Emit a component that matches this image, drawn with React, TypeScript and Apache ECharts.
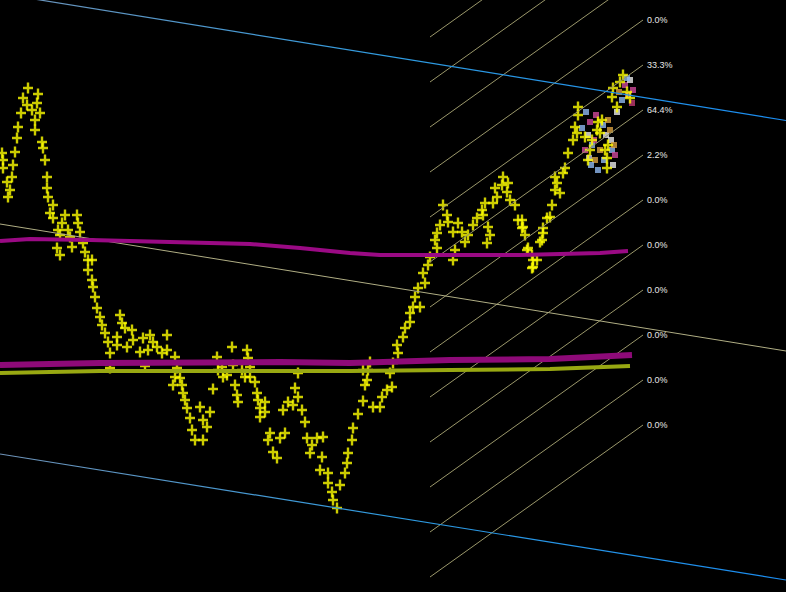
import React, { useEffect, useRef } from "react";
import * as echarts from "echarts";

// Price path (bar position, price level on an inverted scale)
const priceX: number[] = [2,3,3,7,8,10,12,13,15,17,18,21,23,27,28,32,35,35,37,38,40,42,43,45,47,47,48,53,50,53,57,58,60,60,62,65,68,70,72,77,78,80,83,85,88,88,92,92,93,95,97,100,102,105,108,110,110,117,117,120,122,125,127,132,133,140,143,145,148,150,153,157,162,167,167,175,177,175,173,180,182,183,185,187,190,192,195,200,203,203,207,210,213,217,218,222,223,227,232,233,235,237,238,242,245,247,248,250,250,255,257,258,260,260,265,265,268,270,273,277,280,283,285,288,293,295,298,298,302,305,307,310,312,317,320,322,323,328,328,332,333,337,340,345,347,348,352,353,358,363,363,365,367,368,370,373,380,382,387,390,392,393,397,398,403,405,410,410,413,415,418,420,423,425,428,430,435,437,437,440,443,447,448,453,453,455,458,462,465,468,473,477,482,483,485,487,488,490,493,495,497,502,503,507,508,510,515,518,522,522,523,525,527,528,532,532,533,533,537,540,542,543,543,547,550,552,555,555,557,560,563,565,568,573,575,577,578,578,585,588,590,592,597,598,600,602,605,607,607,608,612,613,617,620,623,627,630];
const priceY: number[] = [153,160,168,182,197,190,177,165,152,138,127,113,98,105,88,110,120,130,103,94,113,142,148,160,177,188,197,205,213,218,248,230,235,255,223,215,230,237,247,215,223,232,243,252,260,270,260,280,287,297,308,317,325,333,342,353,368,337,345,315,323,328,347,330,340,352,338,366,350,335,342,347,353,335,350,357,368,377,385,378,385,393,400,408,418,430,440,407,420,440,427,412,389,357,370,367,377,375,347,365,385,395,402,370,377,350,358,367,377,382,393,400,408,417,402,412,440,433,452,458,438,410,433,402,405,388,373,397,410,422,438,453,445,438,470,457,437,473,483,492,500,508,485,473,463,453,440,428,414,401,370,385,380,370,362,407,407,397,390,373,387,363,345,353,337,328,322,313,307,297,288,307,273,283,265,257,240,248,233,225,205,215,222,232,260,250,223,232,242,235,225,218,210,215,203,243,227,235,203,188,197,185,177,192,183,200,205,220,228,220,227,235,250,248,255,268,260,267,260,242,240,228,233,218,217,205,190,177,183,193,173,168,153,140,127,133,115,107,137,160,150,140,130,122,133,120,150,158,168,145,97,88,107,82,75,92,98];

// Latest ticks (multicolour markers)
const tickX: number[] = [586,590,588,592,585,595,603,606,610,612,615,613,598,625,628,632,630,622,617,582,600,589,594,608,611,604,619,627,633,596,591,614];
const tickY: number[] = [112,122,135,145,150,160,125,135,130,150,155,165,170,85,95,103,80,100,112,128,150,158,140,120,140,160,92,78,90,115,165,145];
const tickC: string[] = ["#8fb8f0","#d0489a","#e8e8e8","#8fb8f0","#d0489a","#d8a040","#8fb8f0","#e8e8e8","#d8a040","#8fb8f0","#d0489a","#e8e8e8","#8fb8f0","#d0489a","#d0489a","#c03a70","#e8e8e8","#8fb8f0","#e8e8e8","#8fb8f0","#d8a040","#c8c8d8","#d0489a","#d8a040","#e8e8e8","#8fb8f0","#d8a040","#8fb8f0","#d0489a","#d0489a","#8fb8f0","#d8a040"];

// Moving averages
const maFastX: number[] = [0, 30, 90, 170, 250, 300, 350, 380, 520, 560, 600, 628];
const maFastY: number[] = [241, 239, 240, 242, 244, 248, 253, 255, 255, 254, 253, 251];
const maMidX: number[] = [0, 100, 280, 350, 450, 550, 632];
const maMidY: number[] = [365, 363, 362, 363, 360, 359, 355];
const maSlowX: number[] = [0, 100, 350, 450, 550, 630];
const maSlowY: number[] = [373, 371, 371, 370, 369, 366];

// Regression channel
const channelX: number[] = [0, 786];
const channelUpper: number[] = [-6.5, 120.5];
const channelMid: number[] = [224, 351];
const channelLower: number[] = [454, 580];

// Fan lines
const fanStartX = 430;
const fanEndX = 643;
const fanStartY: number[] = [37, 82, 127, 172, 217, 262, 307, 352, 397, 442, 487, 532, 577];
const fanEndY: number[] = [-115, -70, -25, 20, 65, 110, 155, 200, 245, 290, 335, 380, 425];
const fanLabels: string[] = ["", "", "", "0.0%", "33.3%", "64.4%", "2.2%", "0.0%", "0.0%", "0.0%", "0.0%", "0.0%", "0.0%"];

const zip = (xs: number[], ys: number[]) => xs.map((x, i) => [x, ys[i]]);

const crossPath = "path://M3.8,0H6.2V3.8H10V6.2H6.2V10H3.8V6.2H0V3.8H3.8Z";

export default function App() {
  const ref = useRef<HTMLDivElement>(null);
  useEffect(() => {
    document.body.style.margin = "0";
    document.body.style.background = "#000";
    const chart = echarts.init(ref.current!, undefined, { renderer: "svg" });
    const series: any[] = [];
    fanStartY.forEach((y0, i) => {
      series.push({
        type: "line",
        data: [[fanStartX, y0], [fanEndX, fanEndY[i]]],
        symbol: "none",
        lineStyle: { color: "#9a976a", width: 1 },
        silent: true,
        endLabel: fanLabels[i]
          ? {
              show: true,
              formatter: () => fanLabels[i],
              color: "#e6e6e6",
              fontSize: 9,
              fontFamily: "Liberation Sans",
              distance: 4,
            }
          : { show: false },
      });
    });
    const blueGrad = new echarts.graphic.LinearGradient(0, 0, 1, 0, [
      { offset: 0, color: "#6f93b8" },
      { offset: 0.5, color: "#2f9be0" },
      { offset: 1, color: "#1a8cf0" },
    ]);
    series.push(
      { type: "line", data: zip(channelX, channelUpper), symbol: "none", lineStyle: { color: blueGrad, width: 1.2 } },
      { type: "line", data: zip(channelX, channelLower), symbol: "none", lineStyle: { color: blueGrad, width: 1.2 } },
      { type: "line", data: zip(channelX, channelMid), symbol: "none", lineStyle: { color: "#b0ae84", width: 1 } },
      { type: "line", data: zip(maFastX, maFastY), symbol: "none", lineStyle: { color: "#9a0a84", width: 4 } },
      { type: "line", data: zip(maMidX, maMidY), symbol: "none", lineStyle: { color: "#8e0a78", width: 6 } },
      { type: "line", data: zip(maSlowX, maSlowY), symbol: "none", lineStyle: { color: "#98a812", width: 4 } },
      {
        type: "scatter",
        data: tickX.map((x, i) => ({ value: [x, tickY[i]], itemStyle: { color: tickC[i] } })),
        symbol: "rect",
        symbolSize: 6,
      },
      {
        type: "scatter",
        data: zip(priceX, priceY),
        symbol: crossPath,
        symbolSize: [10, 11],
        itemStyle: { color: "#ffff00" },
      }
    );
    chart.setOption({
      animation: false,
      backgroundColor: "#000000",
      grid: { left: 0, right: 0, top: 0, bottom: 0 },
      xAxis: { type: "value", min: 0, max: 786, show: false },
      yAxis: { type: "value", min: 0, max: 592, inverse: true, show: false },
      series,
    });
    return () => chart.dispose();
  }, []);
  return <div ref={ref} style={{ width: 786, height: 592 }} />;
}
